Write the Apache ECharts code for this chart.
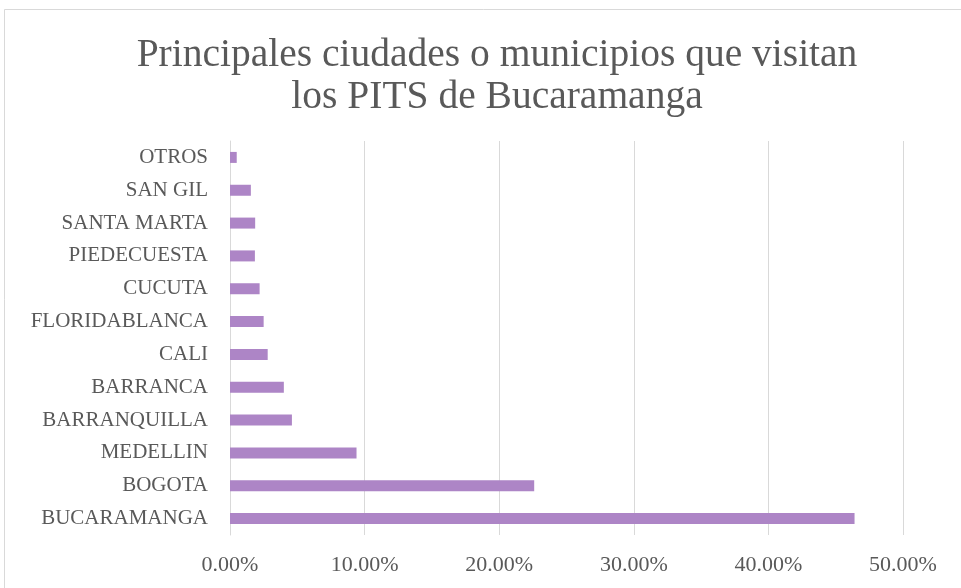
<!DOCTYPE html>
<html>
<head>
<meta charset="utf-8">
<style>
  html, body { margin: 0; padding: 0; background: #fff; }
  #chart { width: 961px; height: 588px; }
</style>
<script src="https://cdn.jsdelivr.net/npm/echarts@6/dist/echarts.min.js"></script>
</head>
<body>
<div id="chart"></div>
<script>
// ciudades, de abajo hacia arriba
var ciudades = ['BUCARAMANGA', 'BOGOTA', 'MEDELLIN', 'BARRANQUILLA', 'BARRANCA', 'CALI',
  'FLORIDABLANCA', 'CUCUTA', 'PIEDECUESTA', 'SANTA MARTA', 'SAN GIL', 'OTROS'];
// porcentaje de visitantes (%)
var porcentajes = [46.4, 22.6, 9.4, 4.6, 4.0, 2.8, 2.5, 2.2, 1.85, 1.87, 1.55, 0.5];
var ticksX = [0, 10, 20, 30, 40, 50];

var myChart = echarts.init(document.getElementById('chart'));
var fuente = '"Liberation Serif", "DejaVu Serif", serif';

option = {
  backgroundColor: '#fff',
  animation: false,
  title: {
    text: 'Principales ciudades o municipios que visitan\nlos PITS de Bucaramanga',
    left: 492,
    textAlign: 'center',
    top: 30,
    textStyle: {
      fontFamily: fuente,
      fontSize: 39.5,
      fontWeight: 'normal',
      color: '#595959',
      lineHeight: 42
    }
  },
  graphic: [{
    type: 'rect',
    shape: { x: 4.5, y: 9.5, width: 970, height: 600 },
    style: { fill: 'none', stroke: '#d9d9d9', lineWidth: 1 },
    silent: true
  }],
  grid: { left: 230, right: 58, top: 141, bottom: 53 },
  xAxis: {
    type: 'value',
    min: ticksX[0],
    max: ticksX[ticksX.length - 1],
    interval: 10,
    axisLine: { show: false },
    axisTick: { show: false },
    splitLine: { lineStyle: { color: '#d9d9d9', width: 1 } },
    axisLabel: {
      margin: 19,
      fontFamily: fuente,
      fontSize: 22,
      color: '#595959',
      formatter: function (v) { return v.toFixed(2) + '%'; }
    }
  },
  yAxis: {
    type: 'category',
    data: ciudades,
    axisLine: { show: true, lineStyle: { color: '#d9d9d9', width: 1 } },
    axisTick: { show: false },
    axisLabel: {
      margin: 22,
      fontFamily: fuente,
      fontSize: 21,
      color: '#595959'
    }
  },
  series: [{
    type: 'bar',
    data: porcentajes,
    barWidth: 11,
    itemStyle: { color: '#ad85c6' }
  }]
};

myChart.setOption(option);
window.onresize = function () {
  myChart.resize();
};
</script>
</body>
</html>
